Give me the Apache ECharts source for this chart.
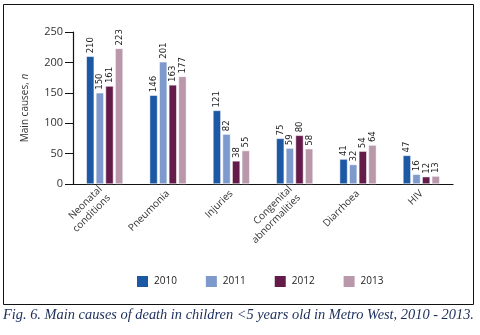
<!DOCTYPE html>
<html>
<head>
<meta charset="utf-8">
<script src="https://cdn.jsdelivr.net/npm/echarts@6/dist/echarts.min.js"></script>
<style>
  html, body { margin: 0; padding: 0; background: #fff; }
  #chart { width: 480px; height: 335px; }
</style>
</head>
<body>
<div id="chart"></div>
<script>
var causes = ['Neonatal\nconditions', 'Pneumonia', 'Injuries', 'Congenital\nabnormalities', 'Diarrhoea', 'HIV'];
var years = ['2010', '2011', '2012', '2013'];
var deaths2010 = [210, 146, 121, 75, 41, 47];
var deaths2011 = [150, 201, 82, 59, 32, 16];
var deaths2012 = [161, 163, 38, 80, 54, 12];
var deaths2013 = [223, 177, 55, 58, 64, 13];
var yTicks = [0, 50, 100, 150, 200, 250];

var colors = ['#1c58a4', '#7e9acd', '#641b4a', '#b898aa'];
var values = [deaths2010, deaths2011, deaths2012, deaths2013];
var font = 'Open Sans';

var chartDom = document.getElementById('chart');
var myChart = echarts.init(chartDom);

var series = years.map(function (y, i) {
  return {
    name: y,
    type: 'bar',
    data: values[i],
    barGap: '22%',
    barCategoryGap: '42%',
    itemStyle: { color: colors[i], borderColor: '#fff', borderWidth: 0.5 },
    label: {
      show: true,
      position: 'top',
      rotate: 90,
      align: 'left',
      verticalAlign: 'middle',
      distance: 3,
      fontFamily: 'DejaVu Sans Condensed',
      fontSize: 9.5,
      color: '#222'
    }
  };
});

var option = {
  animation: false,
  color: colors,
  textStyle: { fontFamily: font },
  grid: { left: 73, right: 27, top: 32, bottom: 151 },
  legend: {
    data: years,
    bottom: 41,
    left: 130,
    itemWidth: 13,
    itemHeight: 13,
    itemGap: 27,
    icon: 'rect',
    textStyle: { fontFamily: font, fontSize: 10, color: '#222' }
  },
  xAxis: {
    type: 'category',
    data: causes,
    axisLine: { lineStyle: { color: '#111', width: 1.2 } },
    axisTick: { show: false },
    axisLabel: {
      rotate: 45,
      interval: 0,
      margin: 8,
      fontFamily: font,
      fontSize: 10,
      color: '#333',
      lineHeight: 12
    }
  },
  yAxis: {
    type: 'value',
    min: yTicks[0],
    max: yTicks[yTicks.length - 1],
    interval: 50,
    name: '{a|Main causes, }{b|n}',
    nameLocation: 'middle',
    nameGap: 43,
    nameRotate: 90,
    nameTextStyle: {
      rich: {
        a: { fontFamily: font, fontSize: 10, color: '#333' },
        b: { fontFamily: font, fontSize: 10, fontStyle: 'italic', color: '#333' }
      }
    },
    axisLine: { show: true, lineStyle: { color: '#111', width: 1.2 } },
    axisTick: { show: true, inside: false, length: 8, lineStyle: { color: '#111' } },
    splitLine: { show: false },
    axisLabel: { fontFamily: font, fontSize: 11, color: '#333', margin: 10 }
  },
  graphic: [
    {
      type: 'rect',
      shape: { x: 3.5, y: 4.5, width: 470, height: 300 },
      style: { fill: null, stroke: '#111', lineWidth: 1 },
      silent: true
    },
    {
      type: 'text',
      left: 3,
      top: 308,
      style: {
        text: 'Fig. 6. Main causes of death in children <5 years old in Metro West, 2010 - 2013.',
        fontFamily: 'Liberation Serif',
        fontStyle: 'italic',
        fontSize: 14.4,
        fill: '#1b2d5c'
      }
    }
  ],
  series: series
};

myChart.setOption(option);
</script>
</body>
</html>
